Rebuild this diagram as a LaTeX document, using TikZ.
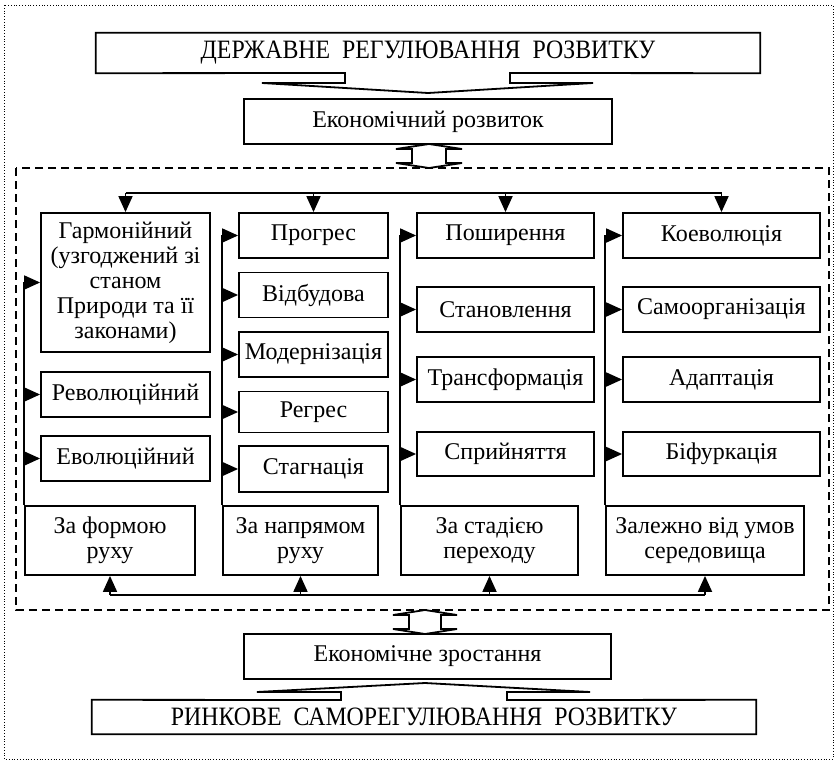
\documentclass[tikz,border=0pt]{standalone}
\usepackage{fontspec}
\setmainfont{Liberation Serif}
\newfontfamily\headfont[FakeStretch=0.9]{Liberation Serif}
\usetikzlibrary{arrows.meta}

\begin{document}
\begin{tikzpicture}[x=1pt,y=-1pt,
  box/.style={draw, line width=1.8pt, inner sep=0pt, align=center, font=\fontsize{24}{25}\selectfont},
  big/.style={inner sep=0pt, font=\headfont\fontsize{26.5}{28}\selectfont},
  bus/.style={line width=1.8pt},
  link/.style={bus, -{Triangle[length=16pt,width=14pt]}},
  fat/.style={line width=1.8pt, line join=miter}]
\useasboundingbox (0,0) rectangle (836,761);
\draw [dotted, line width=0.8pt] (4,5) rectangle (833,759);
\draw [line width=1.6pt, dash pattern=on 8pt off 5pt] (16,168) rectangle (829,610);

\node [big, minimum width=664pt, minimum height=40pt] (title) at (428,53) {ДЕРЖАВНЕ~~РЕГУЛЮВАННЯ~~РОЗВИТКУ};
\draw [fat] (title.north west) -- (title.north east) -- (title.south east) -- (510,73) -- (510,83) -- (593,83) -- (428,93) -- (262,83) -- (345,83) -- (345,73) -- (title.south west) -- cycle;
\node [box, minimum width=368pt, minimum height=45pt] (rozv) at (428,121.5) {Економічний розвиток};
\draw [fat, fill=white] (429,144) -- (462,149) -- (446,149) -- (446,163) -- (462,163) -- (429,168) -- (396,163) -- (412,163) -- (412,149) -- (396,149) -- cycle;

\node [box, minimum width=169pt, minimum height=139pt] (garm) at (125.5,282.5) {Гармонійний\\(узгоджений зі\\станом\\Природи та її\\законами)};
\node [box, minimum width=169pt, minimum height=45pt] (revol) at (125.5,394.5) {Революційний};
\node [box, minimum width=169pt, minimum height=45pt] (evol) at (125.5,458.5) {Еволюційний};
\node [box, minimum width=170pt, minimum height=69pt] (forma) at (110,540.5) {За формою\\руху};

\node [box, minimum width=149pt, minimum height=45pt] (progres) at (313.5,235.5) {Прогрес};
\node [box, minimum width=149pt, minimum height=45pt] (vidbud) at (313.5,295) {Відбудова};
\node [box, minimum width=149pt, minimum height=45pt] (modern) at (313.5,354.5) {Модернізація};
\node [box, minimum width=149pt, minimum height=41pt] (regres) at (313.5,412) {Регрес};
\node [box, minimum width=149pt, minimum height=46pt] (stagn) at (313.5,469) {Стагнація};
\node [box, minimum width=155pt, minimum height=69pt] (napryam) at (300.5,540.5) {За напрямом\\руху};

\node [box, minimum width=177pt, minimum height=45pt] (poshyr) at (505.5,235.5) {Поширення};
\node [box, minimum width=177pt, minimum height=45pt] (stanovl) at (505.5,309.5) {Становлення};
\node [box, minimum width=177pt, minimum height=45pt] (transf) at (505.5,379.5) {Трансформація};
\node [box, minimum width=177pt, minimum height=44pt] (spryin) at (505.5,454) {Сприйняття};
\node [box, minimum width=177pt, minimum height=69pt] (stadia) at (489.5,540.5) {За стадією\\переходу};

\node [box, minimum width=197pt, minimum height=45pt] (koevol) at (721.5,235.5) {Коеволюція};
\node [box, minimum width=197pt, minimum height=45pt] (samoorg) at (721.5,309.5) {Самоорганізація};
\node [box, minimum width=197pt, minimum height=45pt] (adapt) at (721.5,379.5) {Адаптація};
\node [box, minimum width=197pt, minimum height=44pt] (bifurk) at (721.5,454) {Біфуркація};
\node [box, minimum width=198pt, minimum height=69pt] (umovy) at (705,540.5) {Залежно від умов\\середовища};

\coordinate (top) at (0,193);
\draw [bus] (garm.north |- top) -- (koevol.north |- top);
\draw [link] (garm.north |- top) -- (garm.north);
\draw [link] (progres.north |- top) -- (progres.north);
\draw [link] (poshyr.north |- top) -- (poshyr.north);
\draw [link] (koevol.north |- top) -- (koevol.north);

\draw [link] (forma.north west) |- (garm.west);
\draw [link] (forma.north west |- revol.west) -- (revol.west);
\draw [link] (forma.north west |- evol.west) -- (evol.west);
\draw [link] (napryam.north west) |- (progres.west);
\draw [link] (napryam.north west |- vidbud.west) -- (vidbud.west);
\draw [link] (napryam.north west |- modern.west) -- (modern.west);
\draw [link] (napryam.north west |- regres.west) -- (regres.west);
\draw [link] (napryam.north west |- stagn.west) -- (stagn.west);
\draw [link] (stadia.north west) |- (poshyr.west);
\draw [link] (stadia.north west |- stanovl.west) -- (stanovl.west);
\draw [link] (stadia.north west |- transf.west) -- (transf.west);
\draw [link] (stadia.north west |- spryin.west) -- (spryin.west);
\draw [link] (umovy.north west) |- (koevol.west);
\draw [link] (umovy.north west |- samoorg.west) -- (samoorg.west);
\draw [link] (umovy.north west |- adapt.west) -- (adapt.west);
\draw [link] (umovy.north west |- bifurk.west) -- (bifurk.west);

\coordinate (low) at (0,595);
\draw [bus] (forma.south |- low) -- (umovy.south |- low);
\draw [link] (forma.south |- low) -- (forma.south);
\draw [link] (napryam.south |- low) -- (napryam.south);
\draw [link] (stadia.south |- low) -- (stadia.south);
\draw [link] (umovy.south |- low) -- (umovy.south);

\draw [fat, fill=white] (425,610) -- (457,615) -- (441,615) -- (441,629) -- (457,629) -- (425,634) -- (393,629) -- (409,629) -- (409,615) -- (393,615) -- cycle;
\node [box, minimum width=367pt, minimum height=45pt] (zrost) at (427.5,656.5) {Економічне зростання};
\node [big, minimum width=664pt, minimum height=34pt] (rynok) at (424,717) {РИНКОВЕ~~САМОРЕГУЛЮВАННЯ~~РОЗВИТКУ};
\draw [fat] (rynok.south west) -- (rynok.north west) -- (341,700) -- (341,692) -- (257,692) -- (425,683) -- (590,692) -- (507,692) -- (507,700) -- (rynok.north east) -- (rynok.south east) -- cycle;
\end{tikzpicture}
\end{document}
